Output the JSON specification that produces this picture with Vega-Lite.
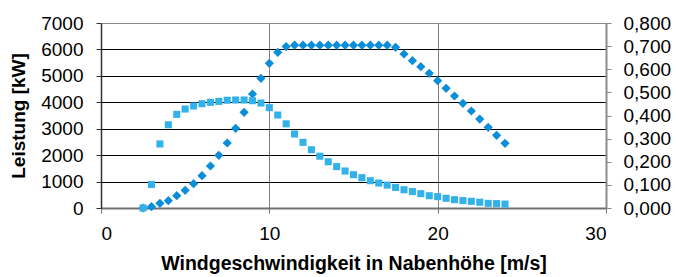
{
  "$schema": "https://vega.github.io/schema/vega-lite/v6.json",
  "width": 505,
  "height": 185,
  "autosize": {"type": "none"},
  "padding": {"left": 101, "top": 23, "right": 70, "bottom": 69},
  "background": "white",
  "config": {
    "view": {"stroke": null},
    "font": "Liberation Sans",
    "axis": {"labelFont": "Liberation Sans", "titleFont": "Liberation Sans", "labelFontSize": 19, "labelColor": "#000", "titleColor": "#000"}
  },
  "data": {
    "values": [
      {"v": 2.5, "P": 0, "cp": 0.0},
      {"v": 3.0, "P": 50, "cp": 0.102},
      {"v": 3.5, "P": 178, "cp": 0.277},
      {"v": 4.0, "P": 277, "cp": 0.360},
      {"v": 4.5, "P": 466, "cp": 0.405},
      {"v": 5.0, "P": 669, "cp": 0.428},
      {"v": 5.5, "P": 920, "cp": 0.441},
      {"v": 6.0, "P": 1222, "cp": 0.451},
      {"v": 6.5, "P": 1589, "cp": 0.457},
      {"v": 7.0, "P": 1993, "cp": 0.461},
      {"v": 7.5, "P": 2459, "cp": 0.466},
      {"v": 8.0, "P": 3015, "cp": 0.467},
      {"v": 8.5, "P": 3620, "cp": 0.467},
      {"v": 9.0, "P": 4313, "cp": 0.464},
      {"v": 9.5, "P": 4907, "cp": 0.454},
      {"v": 10.0, "P": 5475, "cp": 0.434},
      {"v": 10.5, "P": 5891, "cp": 0.402},
      {"v": 11.0, "P": 6110, "cp": 0.364},
      {"v": 11.5, "P": 6160, "cp": 0.320},
      {"v": 12.0, "P": 6160, "cp": 0.284},
      {"v": 12.5, "P": 6160, "cp": 0.252},
      {"v": 13.0, "P": 6160, "cp": 0.224},
      {"v": 13.5, "P": 6160, "cp": 0.200},
      {"v": 14.0, "P": 6160, "cp": 0.179},
      {"v": 14.5, "P": 6160, "cp": 0.160},
      {"v": 15.0, "P": 6160, "cp": 0.144},
      {"v": 15.5, "P": 6160, "cp": 0.131},
      {"v": 16.0, "P": 6160, "cp": 0.118},
      {"v": 16.5, "P": 6160, "cp": 0.108},
      {"v": 17.0, "P": 6160, "cp": 0.099},
      {"v": 17.5, "P": 6080, "cp": 0.089},
      {"v": 18.0, "P": 5827, "cp": 0.079},
      {"v": 18.5, "P": 5575, "cp": 0.071},
      {"v": 19.0, "P": 5348, "cp": 0.062},
      {"v": 19.5, "P": 5096, "cp": 0.053},
      {"v": 20.0, "P": 4818, "cp": 0.049},
      {"v": 20.5, "P": 4530, "cp": 0.042},
      {"v": 21.0, "P": 4238, "cp": 0.036},
      {"v": 21.5, "P": 3961, "cp": 0.032},
      {"v": 22.0, "P": 3670, "cp": 0.029},
      {"v": 22.5, "P": 3367, "cp": 0.025},
      {"v": 23.0, "P": 3053, "cp": 0.020},
      {"v": 23.5, "P": 2751, "cp": 0.019},
      {"v": 24.0, "P": 2448, "cp": 0.017}
    ]
  },
  "encoding": {
    "x": {
      "field": "v", "type": "quantitative",
      "scale": {"domain": [0, 30], "nice": false, "zero": true},
      "axis": {
        "values": [0, 10, 20, 30],
        "title": "Windgeschwindigkeit in Nabenhöhe [m/s]",
        "titleFontSize": 19.5, "titleFontWeight": "bold", "titlePadding": 11,
        "labelPadding": 11,
        "grid": true, "gridColor": "#808080", "gridWidth": 1,
        "domainColor": "#707070", "domainWidth": 2,
        "tickColor": "#707070", "tickSize": 5
      }
    }
  },
  "layer": [
    {
      "mark": {"type": "point", "shape": "diamond", "filled": true, "size": 85, "opacity": 1, "color": "#0a8ed9"},
      "encoding": {
        "y": {
          "field": "P", "type": "quantitative",
          "scale": {"domain": [0, 7000], "nice": false},
          "axis": {
            "values": [0, 1000, 2000, 3000, 4000, 5000, 6000, 7000],
            "format": "d",
            "title": "Leistung [kW]",
            "titleFontSize": 19, "titleFontWeight": "bold", "titlePadding": 12,
            "labelPadding": 13,
            "grid": true,
            "gridColor": {"condition": {"test": "datum.value == 7000", "value": "#8a8a8a"}, "value": "#000000"},
            "gridWidth": 1,
            "domainColor": "#303030", "domainWidth": 1.5,
            "tickColor": "#303030", "tickSize": 5
          }
        }
      }
    },
    {
      "mark": {"type": "point", "shape": "square", "filled": true, "size": 50, "opacity": 1, "color": "#33b1e9"},
      "encoding": {
        "y": {
          "field": "cp", "type": "quantitative",
          "scale": {"domain": [0, 0.8], "nice": false},
          "axis": {
            "orient": "right",
            "values": [0, 0.1, 0.2, 0.3, 0.4, 0.5, 0.6, 0.7, 0.8],
            "labelExpr": "replace(format(datum.value, '.3f'), '.', ',')",
            "title": null,
            "labelPadding": 12,
            "grid": false,
            "domainColor": "#8a8a8a", "domainWidth": 2,
            "tickColor": "#8a8a8a", "tickSize": 5
          }
        }
      }
    }
  ],
  "resolve": {"scale": {"y": "independent"}}
}
